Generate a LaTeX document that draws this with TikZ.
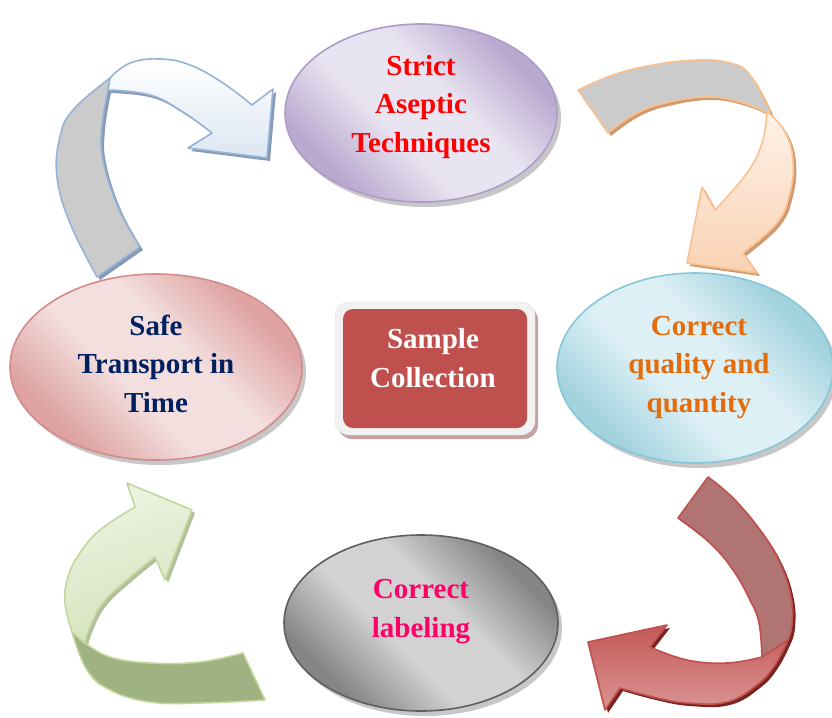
\documentclass[tikz,border=0pt]{standalone}
\usepackage{fontspec}
\setmainfont{Liberation Serif}
\usetikzlibrary{shapes.geometric}

% palette
\definecolor{lavDark}{HTML}{B9A9CF}
\definecolor{lavLight}{HTML}{E9E4F1}
\definecolor{lavLine}{HTML}{AE9CC8}
\definecolor{pinkDark}{HTML}{DDA2A1}
\definecolor{pinkLight}{HTML}{F3DFDE}
\definecolor{pinkLine}{HTML}{D38C8A}
\definecolor{aquaDark}{HTML}{A3D2DF}
\definecolor{aquaLight}{HTML}{DDF0F5}
\definecolor{aquaLine}{HTML}{86C6D8}
\definecolor{greyDark}{HTML}{858585}
\definecolor{greyLight}{HTML}{D2D2D2}
\definecolor{greyLine}{HTML}{5E5E5E}
\definecolor{boxRed}{HTML}{C0504D}
\definecolor{boxFrame}{HTML}{F2F2F2}
\definecolor{boxShadow}{HTML}{C4A2A2}
\definecolor{txtNavy}{HTML}{002060}
\definecolor{txtOrange}{HTML}{E46C0A}
\definecolor{txtPink}{HTML}{FF0066}
% arrow colours
\definecolor{blueLine}{HTML}{95B3D7}
\definecolor{blueFront}{HTML}{DCE6F2}
\definecolor{blueShadow}{HTML}{8799B3}
\definecolor{ribbonGrey}{HTML}{CBCBCB}
\definecolor{orangeLine}{HTML}{FAC090}
\definecolor{orangeTop}{HTML}{FEF2E8}
\definecolor{orangeBottom}{HTML}{F9D2B3}
\definecolor{orangeShadow}{HTML}{CF9A70}
\definecolor{redBack}{HTML}{B07573}
\definecolor{redTop}{HTML}{C45856}
\definecolor{redBottom}{HTML}{D99594}
\definecolor{redShadow}{HTML}{7A2422}
\definecolor{greenLine}{HTML}{C3D69B}
\definecolor{greenBack}{HTML}{9FB281}
\definecolor{greenTop}{HTML}{EDF3E2}
\definecolor{greenBottom}{HTML}{D5E2BB}
\definecolor{greenShadow}{HTML}{B3BF9C}

% dark corners, wide light band across the middle
\pgfdeclareverticalshading{lavShade}{100bp}{color(0bp)=(lavDark); color(27bp)=(lavDark); color(43bp)=(lavLight); color(57bp)=(lavLight); color(73bp)=(lavDark); color(100bp)=(lavDark)}
\pgfdeclareverticalshading{pinkShade}{100bp}{color(0bp)=(pinkDark); color(27bp)=(pinkDark); color(43bp)=(pinkLight); color(57bp)=(pinkLight); color(73bp)=(pinkDark); color(100bp)=(pinkDark)}
\pgfdeclareverticalshading{aquaShade}{100bp}{color(0bp)=(aquaDark); color(27bp)=(aquaDark); color(43bp)=(aquaLight); color(57bp)=(aquaLight); color(73bp)=(aquaDark); color(100bp)=(aquaDark)}
\pgfdeclareverticalshading{greyShade}{100bp}{color(0bp)=(greyDark); color(27bp)=(greyDark); color(43bp)=(greyLight); color(57bp)=(greyLight); color(73bp)=(greyDark); color(100bp)=(greyDark)}

% ribbon arrow outlines
\newcommand\aAback{(97,277) -- plot[smooth,tension=.7] coordinates {(97,277) (70,223) (57,177) (60,137) (73,110) (110,78)} -- (108,90) -- plot[smooth,tension=.7] coordinates {(108,90) (102,127) (103,160) (118,207) (140,247)} -- cycle}
\newcommand\aAfront{(110,78) -- plot[smooth,tension=.7] coordinates {(110,78) (130,63) (160,59) (190,65) (223,83) (252,105)} -- (273,89) -- (267,158) -- (188,148) -- (212,133) -- plot[smooth,tension=.7] coordinates {(212,133) (183,112) (150,95) (108,90)} -- cycle}
\newcommand\aBback{(578,90) -- plot[smooth,tension=.7] coordinates {(578,90) (613,75) (653,65) (697,60) (730,63) (750,75) (770,112)} -- plot[smooth,tension=.7] coordinates {(767,113) (743,103) (710,97) (670,102) (637,113) (608,133)} -- cycle}
\newcommand\aBfront{(768,112) -- plot[smooth,tension=.7] coordinates {(768,112) (785,132) (793,160) (790,193) (777,223) (743,253)} -- (757,273) -- (687,263) -- (702,187) -- (715,210) -- plot[smooth,tension=.7] coordinates {(715,210) (747,173) (762,143) (767,113)} -- cycle}
\newcommand\aCback{(708,477) -- plot[smooth,tension=.7] coordinates {(708,477) (733,498) (760,530) (780,563) (791,597) (792,625) (788,640)} -- (762,657) -- plot[smooth,tension=.7] coordinates {(762,657) (759,623) (750,600) (733,570) (710,543) (678,518)} -- cycle}
\newcommand\aCfront{(762,657) -- (788,640) -- plot[smooth,tension=.7] coordinates {(788,640) (775,665) (757,685) (727,702) (687,703) (653,697) (620,688)} -- (605,710) -- (588,642) -- (667,625) -- (650,647) -- plot[smooth,tension=.7] coordinates {(650,647) (687,660) (727,663) (762,657)} -- cycle}
\newcommand\aDback{(243,653) -- (265,700) -- plot[smooth,tension=.7] coordinates {(265,700) (200,703) (150,702) (110,690) (87,670) (72,632)} -- (85,643) -- plot[smooth,tension=.7] coordinates {(85,643) (110,657) (150,663) (200,662) (243,653)} -- cycle}
\newcommand\aDfront{(72,632) -- plot[smooth,tension=.7] coordinates {(72,632) (65,603) (68,577) (80,553) (100,530) (135,507)} -- (127,483) -- (192,510) -- (165,580) -- (155,557) -- plot[smooth,tension=.7] coordinates {(155,557) (127,580) (103,603) (90,627) (85,643)} -- cycle}

\begin{document}
\begin{tikzpicture}[x=1pt,y=-1pt,
  oval/.style={ellipse, inner sep=0pt, outer sep=0pt, line width=1.6pt},
  ovalshadow/.style={fill=black, opacity=0.22},
  lbl/.style={font=\bfseries\fontsize{29}{38.5}\selectfont, align=center, inner sep=0pt},
  ribbon/.style={line width=1.6pt, line join=round}]
\useasboundingbox (0,0) rectangle (832,717);

% soft shadows under the ovals
\foreach \cx/\cy/\rx/\ry in {421/113/136/89, 156/367/146/93, 695/368/138/95, 421/623/137/88}{
  \fill[ovalshadow] (\cx+4,\cy+5) ellipse [x radius=\rx, y radius=\ry];
}

% the four ovals
\node[oval, minimum width=272pt, minimum height=178pt, draw=lavLine,
  shading=lavShade, shading angle=-45] (strict) at (421,113) {};
\node[oval, minimum width=292pt, minimum height=186pt, draw=pinkLine,
  shading=pinkShade, shading angle=-45] (transport) at (156,367) {};
\node[oval, minimum width=276pt, minimum height=190pt, draw=aquaLine,
  shading=aquaShade, shading angle=-45] (quality) at (695,368) {};
\node[oval, minimum width=274pt, minimum height=176pt, draw=greyLine,
  shading=greyShade, shading angle=-45] (labeling) at (421,623) {};

% central box
\fill[boxShadow, rounded corners=14pt] (338,306) rectangle (538,439);
\node[draw=black!12, fill=boxFrame, rounded corners=14pt, minimum width=200pt, minimum height=133pt, inner sep=0pt] (frame) at (435,368.5) {};
\node[fill=boxRed, rounded corners=10pt, minimum width=184pt, minimum height=119pt, inner sep=0pt] (core) at (435,368.5) {};

% ribbon arrows: shadow, back face, front face
\begin{scope}[shift={(3,3)}]
  \fill[blueShadow] \aAback; \fill[blueShadow] \aAfront;
  \fill[orangeShadow] \aBback; \fill[orangeShadow] \aBfront;
  \fill[redShadow] \aCback; \fill[redShadow] \aCfront;
  \fill[greenShadow] \aDfront;
\end{scope}
\draw[ribbon, draw=blueLine, fill=ribbonGrey] \aAback;
\draw[ribbon, draw=blueLine, top color=white, bottom color=blueFront] \aAfront;
\draw[ribbon, draw=orangeLine, fill=ribbonGrey] \aBback;
\draw[ribbon, draw=orangeLine, top color=orangeTop, bottom color=orangeBottom] \aBfront;
\draw[ribbon, draw=boxRed, fill=redBack] \aCback;
\draw[ribbon, draw=boxRed, top color=redTop, bottom color=redBottom] \aCfront;
\draw[ribbon, draw=greenLine, fill=greenBack] \aDback;
\draw[ribbon, draw=greenLine, top color=greenTop, bottom color=greenBottom, shading angle=20] \aDfront;

% labels (anchored at the baseline of the last line)
\node[lbl, text=red, anchor=base] (strictT) at (421,152) {Strict\\Aseptic\\Techniques};
\node[lbl, text=txtNavy, anchor=base] (transportT) at (156,412) {Safe\\Transport in\\Time};
\node[lbl, text=txtOrange, anchor=base] (qualityT) at (699,412) {Correct\\quality and\\quantity};
\node[lbl, text=txtPink, anchor=base] (labelingT) at (421,637) {Correct\\labeling};
\node[lbl, text=white, anchor=base] (coreT) at (433,387) {Sample\\Collection};
\end{tikzpicture}
\end{document}
